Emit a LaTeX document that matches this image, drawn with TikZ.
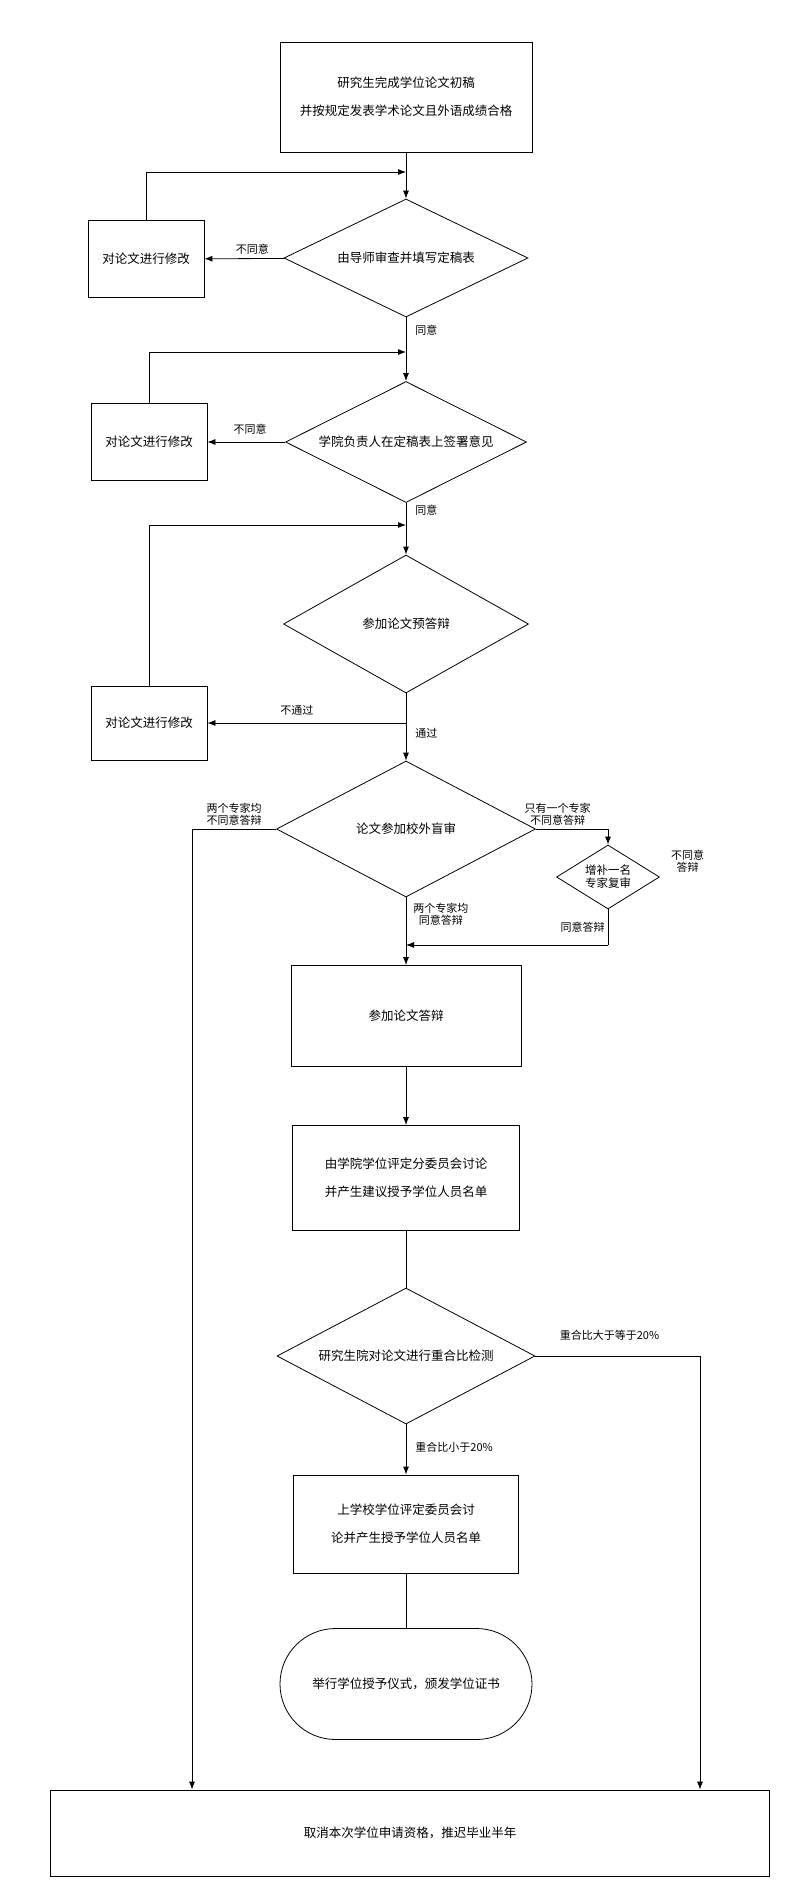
\documentclass[tikz,border=0pt]{standalone}
\usepackage{fontspec}
\setmainfont{Noto Sans CJK SC}
\usepackage{tikz}
\usetikzlibrary{shapes.geometric,shapes.misc,arrows.meta,positioning}

\begin{document}
\begin{tikzpicture}[x=1pt,y=-1pt,
    box/.style={draw,thick,inner sep=0pt,align=center,font=\fontsize{12.5}{28}\selectfont},
    dia/.style={draw,thick,diamond,aspect=2.4,inner sep=0pt,align=center,font=\fontsize{12.5}{15}\selectfont},
    lbl/.style={font=\fontsize{11}{12}\selectfont,align=center,inner sep=1pt},
    arr/.style={thick,-{Latex[length=8pt,width=6pt]}},
    ln/.style={thick}]
  \useasboundingbox (0,0) rectangle (800,1904);
  % main column
  \node[box,minimum width=252,minimum height=110] (start) at (406,97)
    {研究生完成学位论文初稿\\并按规定发表学术论文且外语成绩合格};
  \node[dia,minimum width=244,minimum height=118] (d1) at (406,258) {由导师审查并填写定稿表};
  \node[box,minimum width=116,minimum height=77] (r1) at (146,259) {对论文进行修改};
  \node[dia,minimum width=241,minimum height=121] (d2) at (406,442) {学院负责人在定稿表上签署意见};
  \node[box,minimum width=116,minimum height=77] (r2) at (149,442) {对论文进行修改};
  \node[dia,minimum width=245,minimum height=138] (d3) at (406,624) {参加论文预答辩};
  \node[box,minimum width=116,minimum height=74] (r3) at (149,723) {对论文进行修改};
  \node[dia,minimum width=259,minimum height=136] (d4) at (406,829) {论文参加校外盲审};
  \node[dia,aspect=1.6,minimum width=103,minimum height=64,font=\fontsize{11.5}{13}\selectfont] (d5) at (608,877) {增补一名\\专家复审};
  \node[box,minimum width=230,minimum height=101] (r4) at (406,1016) {参加论文答辩};
  \node[box,minimum width=227,minimum height=105] (r5) at (406,1178)
    {由学院学位评定分委员会讨论\\并产生建议授予学位人员名单};
  \node[dia,minimum width=258,minimum height=136] (d6) at (406,1356) {研究生院对论文进行重合比检测};
  \node[box,minimum width=225,minimum height=98] (r6) at (406,1524)
    {上学校学位评定委员会讨\\论并产生授予学位人员名单};
  \node[box,rounded rectangle,minimum width=252,minimum height=111] (term) at (406,1684)
    {举行学位授予仪式，颁发学位证书};
  \node[box,minimum width=719,minimum height=86] (stop) at (410,1833)
    {取消本次学位申请资格，推迟毕业半年};

  \coordinate (j1) at (406,172);
  \coordinate (j2) at (406,352);
  \coordinate (j3) at (406,525);
  \coordinate (j4) at (406,723);
  \coordinate (j5) at (406,945);
  \coordinate (cl) at (192,829);
  \coordinate (cr) at (608,829);
  \coordinate (cs) at (608,945);
  \coordinate (dr) at (700,1356);

  % connectors
  \draw[arr] (start) -- (d1);
  \draw[arr] (r1.north) |- (j1);
  \draw[arr] (d1) -- node[lbl,above=3pt,pos=0.4] {不同意} (r1);
  \draw[arr] (d1) -- node[lbl,right=8pt,pos=0.2] {同意} (d2);
  \draw[arr] (r2.north) |- (j2);
  \draw[arr] (d2) -- node[lbl,above=6pt,pos=0.45] {不同意} (r2);
  \draw[arr] (d2) -- node[lbl,right=8pt,pos=0.15] {同意} (d3);
  \draw[arr] (r3.north) |- (j3);
  \draw[arr] (j4) -- node[lbl,above=6pt,pos=0.55] {不通过} (r3);
  \draw[arr] (d3) -- node[lbl,right=8pt,pos=0.6] {通过} (d4);
  \draw[arr] (d4.west) -- node[lbl,above=2pt,pos=0.5] {两个专家均\\不同意答辩} (cl) -- (cl |- stop.north);
  \draw[arr] (d4.east) -- node[lbl,above=2pt,pos=0.3] {只有一个专家\\不同意答辩} (cr) -- (d5.north);
  \node[lbl,right=10pt of d5.east,yshift=16pt] (nd5) {不同意\\答辩};
  \draw[ln] (d5.south) -- node[lbl,left=2pt,pos=0.5] {同意答辩} (cs);
  \draw[arr] (cs) -- (j5);
  \draw[arr] (d4) -- node[lbl,right=6pt,pos=0.25] {两个专家均\\同意答辩} (r4);
  \draw[arr] (r4) -- (r5);
  \draw[ln] (r5) -- (d6);
  \draw[arr] (d6.east) -- node[lbl,above=14pt,pos=0.45] {重合比大于等于20\%} (dr) -- (dr |- stop.north);
  \draw[arr] (d6) -- node[lbl,right=8pt,pos=0.45] {重合比小于20\%} (r6);
  \draw[ln] (r6) -- (term);
\end{tikzpicture}
\end{document}
